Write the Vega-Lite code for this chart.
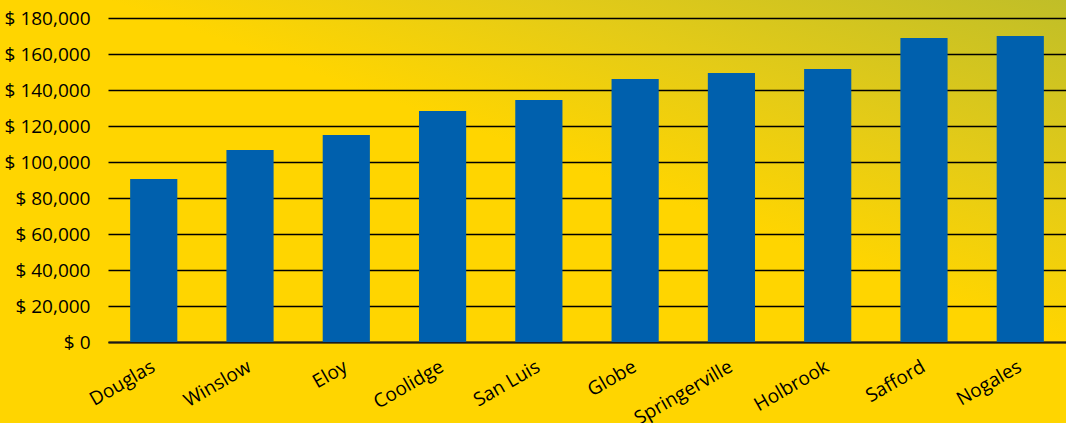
{
  "$schema": "https://vega.github.io/schema/vega-lite/v6.json",
  "width": 958,
  "height": 342,
  "autosize": {"type": "none"},
  "padding": {"left": 108, "top": 0, "right": 0, "bottom": 81},
  "background": "#FFD500",
  "config": {
    "view": {
      "stroke": null,
      "fill": {
        "gradient": "linear",
        "x1": 0, "y1": 1, "x2": 1, "y2": 0,
        "stops": [
          {"offset": 0, "color": "#FFD500"},
          {"offset": 0.5, "color": "#FFD500"},
          {"offset": 0.72, "color": "#E4CB17"},
          {"offset": 1, "color": "#C0BE28"}
        ]
      }
    },
    "axis": {
      "labelFont": "Open Sans",
      "labelFontSize": 19,
      "labelColor": "#000000",
      "titleFontSize": 0
    }
  },
  "data": {
    "values": [
      {"city": "Douglas", "value": 90600},
      {"city": "Winslow", "value": 106700},
      {"city": "Eloy", "value": 115000},
      {"city": "Coolidge", "value": 128300},
      {"city": "San Luis", "value": 134400},
      {"city": "Globe", "value": 146100},
      {"city": "Springerville", "value": 149400},
      {"city": "Holbrook", "value": 151700},
      {"city": "Safford", "value": 168900},
      {"city": "Nogales", "value": 170000}
    ]
  },
  "mark": {"type": "bar", "color": "#0060AD"},
  "encoding": {
    "x": {
      "field": "city",
      "type": "nominal",
      "sort": null,
      "title": null,
      "scale": {"paddingInner": 0.51, "paddingOuter": 0.23},
      "axis": {
        "labelAngle": -30,
        "labelAlign": "right",
        "labelBaseline": "top",
        "ticks": false,
        "tickSize": 0,
        "labelPadding": 15,
        "labelOffset": -5,
        "domain": true,
        "domainColor": "#1a1a1a",
        "domainWidth": 2,
        "grid": false
      }
    },
    "y": {
      "field": "value",
      "type": "quantitative",
      "title": null,
      "scale": {"domain": [0, 190000], "nice": false},
      "axis": {
        "values": [0, 20000, 40000, 60000, 80000, 100000, 120000, 140000, 160000, 180000],
        "labelExpr": "'$ ' + format(datum.value, ',')",
        "ticks": false,
        "tickSize": 0,
        "labelPadding": 18,
        "domain": false,
        "grid": true,
        "gridColor": "#000000",
        "gridWidth": 1.5,
        "gridOpacity": 1
      }
    }
  }
}
